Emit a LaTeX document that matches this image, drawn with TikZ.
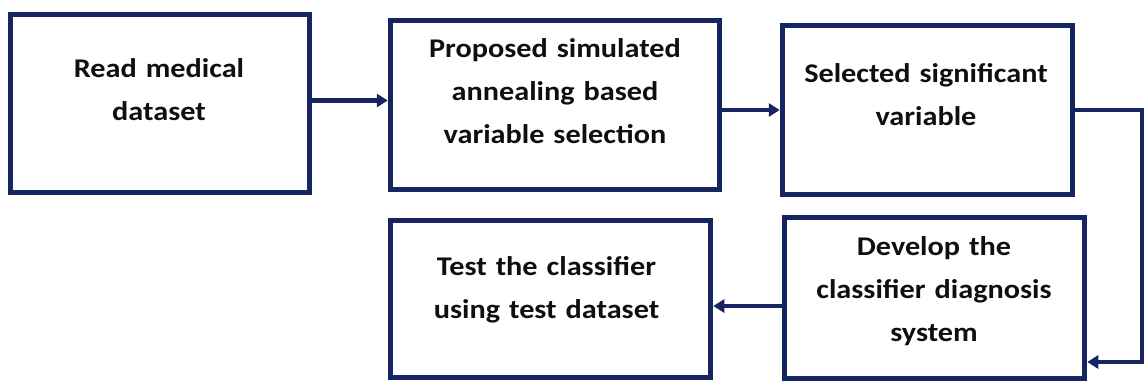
\documentclass[tikz,border=0pt]{standalone}
\usepackage{fontspec}
\setmainfont{Carlito}[FakeStretch=1.12]
\usetikzlibrary{arrows.meta}
\definecolor{navy}{RGB}{22,36,96}
\definecolor{ink}{RGB}{15,15,15}
\begin{document}
\begin{tikzpicture}[x=1pt,y=-1pt,
  box/.style={draw=navy,line width=5.5pt,rectangle,inner sep=0pt},
  txt/.style={text=ink,font=\bfseries\fontsize{27}{43}\selectfont,align=center,text width=300pt,anchor=base,inner sep=0pt},
  conn/.style={draw=navy,line width=4.5pt,line join=miter},
  arr/.style={conn,-{Triangle[length=11pt,width=13pt]}}]
\useasboundingbox (0,0) rectangle (1144,383);
\node[box,minimum width=299pt,minimum height=178pt] (b1) at (160,103.5) {};
\node[box,minimum width=329pt,minimum height=169pt] (b2) at (555,105) {};
\node[box,minimum width=290pt,minimum height=169pt] (b3) at (927.5,110) {};
\node[box,minimum width=300pt,minimum height=161pt] (b4) at (934.5,298) {};
\node[box,minimum width=320pt,minimum height=157pt] (b5) at (550.5,299) {};
\node[txt] (t1) at (159,77) {Read medical\\dataset};
\node[txt] (t2) at (555,57) {Proposed simulated\\annealing based\\variable selection};
\node[txt] (t3) at (926,82) {Selected significant\\variable};
\node[txt] (t4) at (934,255) {Develop the\\classifier diagnosis\\system};
\node[txt] (t5) at (546.5,275) {Test the classifier\\using test dataset};
\coordinate (rx) at (1142,0);
\draw[arr] ([yshift=3pt]b1.east) -- ([yshift=3pt]b1.east -| b2.west);
\draw[arr] (b3.west -| b2.east) -- (b3.west);
\draw[arr] ([yshift=-8pt]b4.west) -- ([yshift=-8pt]b4.west -| b5.east);
\draw[arr] (b3.east) -- (b3.east -| rx) -- ([yshift=-64pt]b4.east -| rx) -- ([yshift=-64pt]b4.east);
\end{tikzpicture}
\end{document}
